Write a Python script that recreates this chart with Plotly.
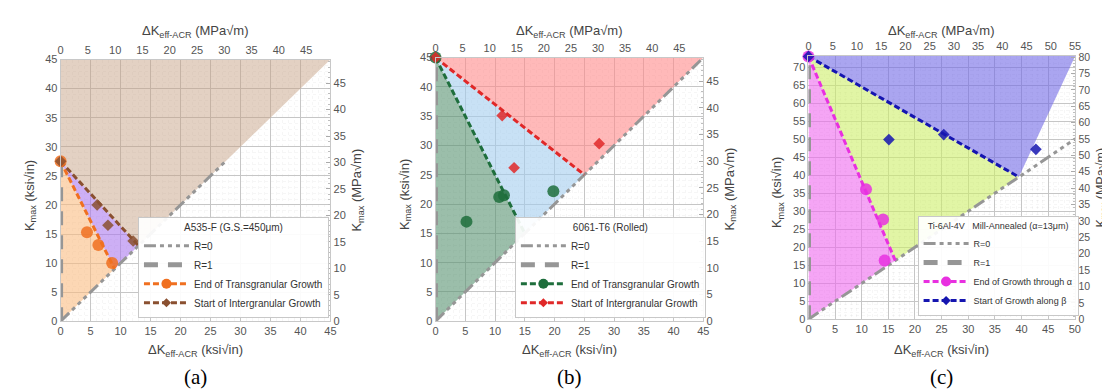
import plotly.graph_objects as go

K = 1.0988  # ksi*sqrt(in) -> MPa*sqrt(m)

# ---------------- data ----------------
# panel (a) A535-F
a_xmax, a_ymax = 45, 45
a_start = 27.5
a_trans_end = 9.0
a_inter_end = 13.0
a_r0_end = 27.5
a_trans_x = [0, 4.4, 6.3, 8.6]
a_trans_y = [27.5, 15.3, 13.1, 10.0]
a_inter_x = [0, 6.1, 7.9, 12.1]
a_inter_y = [27.5, 20.0, 16.5, 13.8]

# panel (b) 6061-T6
b_xmax, b_ymax = 45, 45
b_start = 45
b_trans_end = 15.0
b_inter_end = 25.0
b_r0_end = 45
b_trans_x = [0, 5.2, 10.7, 11.5, 19.8]
b_trans_y = [45, 17.0, 21.2, 21.5, 22.2]
b_inter_x = [0, 11.2, 13.2, 27.5]
b_inter_y = [45, 35.1, 26.2, 30.3]

# panel (c) Ti-6Al-4V
c_xmax, c_ymax = 50.1, 73.2
c_start = 73
c_trans_end = 16.3
c_inter_end = 39.5
c_r0_end = 50.1
c_trans_x = [0, 10.8, 14.0, 14.3]
c_trans_y = [73, 36.1, 27.7, 16.3]
c_inter_x = [0, 15.1, 25.4, 42.7]
c_inter_y = [73, 49.9, 51.3, 47.2]

titles = ["A535-F (G.S.=450μm)", "6061-T6 (Rolled)", "Ti-6Al-4V   Mill-Annealed (α=13μm)"]
trans_names = ["End of Transgranular Growth", "End of Transgranular Growth", "End of Growth through α"]
inter_names = ["Start of Intergranular Growth", "Start of Intergranular Growth", "Start of Growth along β"]
captions = ["(a)", "(b)", "(c)"]

fill_cols = [
    ["rgba(250,188,130,0.6)", "rgba(172,122,238,0.6)", "rgba(195,158,128,0.47)"],
    ["rgba(88,147,113,0.6)", "rgba(163,205,238,0.6)", "rgba(255,138,138,0.6)"],
    ["rgba(238,105,238,0.6)", "rgba(205,238,105,0.6)", "rgba(113,105,230,0.6)"],
]
trans_cols = ["#f07020", "#1e6e3c", "#e830e0"]
inter_cols = ["#8a5030", "#e02828", "#1515b0"]

panels = [
    dict(xmax=a_xmax, ymax=a_ymax, start=a_start, te=a_trans_end, ie=a_inter_end, r0=a_r0_end,
         tx=a_trans_x, ty=a_trans_y, ix=a_inter_x, iy=a_inter_y,
         xdom=[50, 322], ydom=[47, 317], leg=(128, 314), rx=349, rfs=13, rtf=11),
    dict(xmax=b_xmax, ymax=b_ymax, start=b_start, te=b_trans_end, ie=b_inter_end, r0=b_r0_end,
         tx=b_trans_x, ty=b_trans_y, ix=b_inter_x, iy=b_inter_y,
         xdom=[428, 698], ydom=[45, 317], leg=(508, 314), rx=725, rfs=13, rtf=11),
    dict(xmax=c_xmax, ymax=c_ymax, start=c_start, te=c_trans_end, ie=c_inter_end, r0=c_r0_end,
         tx=c_trans_x, ty=c_trans_y, ix=c_inter_x, iy=c_inter_y,
         xdom=[804, 1073], ydom=[43, 315], leg=(914, 312), rx=1100, rfs=12.5, rtf=10.5),
]

W, H = 1110, 389
px = lambda v: v / W
py = lambda v: 1 - v / H

GRAY = "rgb(150,150,150)"
R0_DASH = "12px,4px,4px,4px,4px,4px,4px,4px"
R1_DASH = "14px,10px"
SER_DASH = "6px,3px"

fig = go.Figure()
layout = dict(width=W, height=H, margin=dict(l=0, r=0, t=0, b=0),
              paper_bgcolor="white", plot_bgcolor="white",
              font=dict(family="Liberation Sans, Arial, sans-serif", size=11, color="#444"),
              showlegend=True)
annotations = []

for i, p in enumerate(panels):
    n = 2 * i + 1
    xa, ya = f"x{'' if n == 1 else n}", f"y{'' if n == 1 else n}"
    xa2, ya2 = f"x{n + 1}", f"y{n + 1}"
    leg = "legend" if i == 0 else f"legend{i + 1}"
    common = dict(xaxis=xa, yaxis=ya, hoverinfo="skip")
    s, te, ie, xm, ym = p["start"], p["te"], p["ie"], p["xmax"], p["ymax"]

    # filled regions bounded by R=1 (x=0), R=0 (y=x) and the two boundary lines
    polys = [
        ([0, 0, te], [0, s, te]),
        ([0, ie, te], [s, ie, te]),
    ]
    if s < ym:
        polys.append(([0, 0, xm, ie], [s, ym, ym, ie]))
    elif ym > xm:
        polys.append(([0, xm, xm, ie], [s, ym, xm, ie]))
    else:
        polys.append(([0, xm, ie], [s, ym, ie]))
    for (px_, py_), col in zip(polys, fill_cols[i]):
        fig.add_trace(go.Scatter(x=px_ + [px_[0]], y=py_ + [py_[0]], mode="lines", fill="toself",
                                 fillcolor=col, line=dict(width=0), showlegend=False, **common))

    # reference lines
    fig.add_trace(go.Scatter(x=[0, p["r0"]], y=[0, p["r0"]], mode="lines", name="R=0",
                             line=dict(color=GRAY, width=3, dash=R0_DASH), legend=leg, **common))
    fig.add_trace(go.Scatter(x=[0, 0], y=[0, s], mode="lines", name="R=1",
                             line=dict(color=GRAY, width=5, dash=R1_DASH), legend=leg, **common))

    # boundary lines
    fig.add_trace(go.Scatter(x=[0, te], y=[s, te], mode="lines", showlegend=False,
                             line=dict(color=trans_cols[i], width=3, dash=SER_DASH), **common))
    fig.add_trace(go.Scatter(x=[0, ie], y=[s, ie], mode="lines", showlegend=False,
                             line=dict(color=inter_cols[i], width=3, dash=SER_DASH), **common))
    # data markers
    fig.add_trace(go.Scatter(x=p["tx"], y=p["ty"], mode="markers", showlegend=False, cliponaxis=False,
                             marker=dict(symbol="circle", size=12, color=trans_cols[i], opacity=0.85),
                             **common))
    fig.add_trace(go.Scatter(x=p["ix"], y=p["iy"], mode="markers", showlegend=False, cliponaxis=False,
                             marker=dict(symbol="diamond", size=9, color=inter_cols[i], opacity=0.85),
                             **common))
    # legend entries
    fig.add_trace(go.Scatter(x=[None], y=[None], mode="lines+markers", name=trans_names[i], legend=leg,
                             line=dict(color=trans_cols[i], width=3, dash=SER_DASH),
                             marker=dict(symbol="circle", size=10, color=trans_cols[i]), **common))
    fig.add_trace(go.Scatter(x=[None], y=[None], mode="lines+markers", name=inter_names[i], legend=leg,
                             line=dict(color=inter_cols[i], width=3, dash=SER_DASH),
                             marker=dict(symbol="diamond", size=7, color=inter_cols[i]), **common))
    # dummy on secondary axes
    fig.add_trace(go.Scatter(x=[0], y=[0], mode="markers", marker=dict(opacity=0), showlegend=False,
                             xaxis=xa2, yaxis=ya2, hoverinfo="skip"))

    xd = [px(p["xdom"][0]), px(p["xdom"][1])]
    yd = [py(p["ydom"][1]), py(p["ydom"][0])]
    base = dict(showline=True, linecolor="rgb(200,200,200)", linewidth=1, zeroline=False,
                tickfont=dict(size=11, color="#555"), dtick=5, tick0=0, ticks="")
    grid = dict(showgrid=True, gridcolor="rgb(198,198,198)", gridwidth=1,
                minor=dict(dtick=1, showgrid=True, gridcolor="rgba(0,0,0,0.035)", griddash="dot"))
    axn = lambda a: "xaxis" if a == "x" else ("yaxis" if a == "y" else a.replace("x", "xaxis").replace("y", "yaxis"))
    layout[axn(xa)] = dict(domain=xd, range=[0, xm], anchor=ya, **base, **grid)
    layout[axn(ya)] = dict(domain=yd, range=[0, ym], anchor=xa, **base, **grid)
    layout[axn(xa2)] = dict(domain=xd, range=[0, xm * K], overlaying=xa, side="top", anchor=ya,
                            showgrid=False, **base)
    b2 = dict(base)
    b2.update(ticks="inside", ticklen=4, tickcolor="rgb(170,170,170)",
              tickfont=dict(size=p["rtf"], color="#555"))
    layout[axn(ya2)] = dict(domain=yd, range=[0, ym * K], overlaying=ya, side="right", anchor=xa,
                            showgrid=False, minor=dict(dtick=1, ticks="inside", ticklen=2,
                                                       tickcolor="rgb(190,190,190)"), **b2)

    fs = 9 if i == 2 else 10
    layout[leg] = dict(x=px(p["leg"][0]), y=py(p["leg"][1]), xanchor="left", yanchor="bottom",
                       bgcolor="rgba(255,255,255,0.92)", bordercolor="rgb(200,200,200)", borderwidth=1,
                       font=dict(size=fs, color="#333"), itemwidth=45, tracegroupgap=0,
                       title=dict(text=titles[i], side="top center", font=dict(size=fs, color="#333")))

    cx = (p["xdom"][0] + p["xdom"][1]) / 2
    cy = (p["ydom"][0] + p["ydom"][1]) / 2
    tfont = dict(size=13, color="#444")
    annotations += [
        dict(text="ΔK<sub>eff-ACR</sub> (MPa√m)", x=px(cx), y=py(18), xref="paper", yref="paper",
             showarrow=False, font=tfont, xanchor="center", yanchor="middle"),
        dict(text="ΔK<sub>eff-ACR</sub> (ksi√in)", x=px(cx), y=py(347), xref="paper", yref="paper",
             showarrow=False, font=tfont, xanchor="center", yanchor="middle"),
        dict(text="K<sub>max</sub> (ksi√in)", x=px(p["xdom"][0] - 31), y=py(cy + 5), xref="paper",
             yref="paper", showarrow=False, font=tfont, textangle=-90, xanchor="center", yanchor="middle"),
        dict(text="K<sub>max</sub> (MPa√m)", x=px(p["rx"]), y=py(cy), xref="paper",
             yref="paper", showarrow=False, font=dict(size=p["rfs"], color="#444"), textangle=-90,
             xanchor="center", yanchor="middle"),
        dict(text=captions[i], x=px(cx), y=py(375), xref="paper", yref="paper", showarrow=False,
             font=dict(family="Liberation Serif, Times New Roman, serif", size=21, color="black"),
             xanchor="center", yanchor="middle"),
    ]

layout["annotations"] = annotations
fig.update_layout(**layout)
fig.write_html("out.html")
